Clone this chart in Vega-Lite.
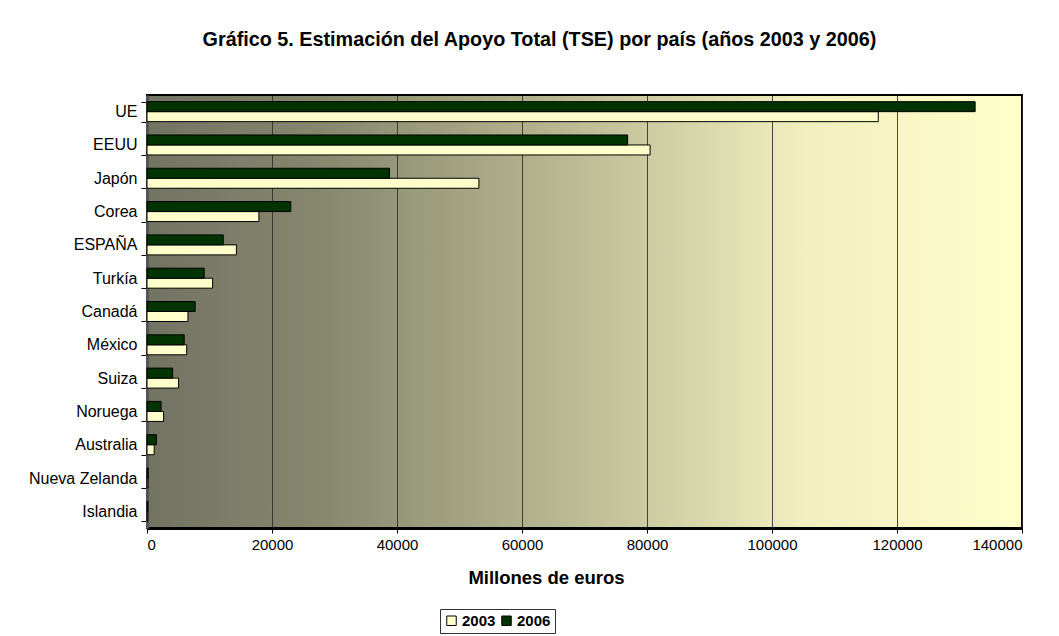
{
  "$schema": "https://vega.github.io/schema/vega-lite/v6.json",
  "width": 875,
  "height": 433,
  "padding": {"left": 28, "top": 30, "right": 5, "bottom": 0},
  "background": "white",
  "title": {
    "text": "Gráfico 5. Estimación del Apoyo Total (TSE) por país (años 2003 y 2006)",
    "font": "Liberation Sans",
    "fontSize": 19.8,
    "fontWeight": "bold",
    "color": "black",
    "offset": 37,
    "dx": 14,
    "anchor": "middle",
    "frame": "bounds"
  },
  "data": {
    "values": [
      {"pais": "UE", "anio": "2003", "valor": 117000},
      {"pais": "UE", "anio": "2006", "valor": 132500},
      {"pais": "EEUU", "anio": "2003", "valor": 80500},
      {"pais": "EEUU", "anio": "2006", "valor": 76900},
      {"pais": "Japón", "anio": "2003", "valor": 53100},
      {"pais": "Japón", "anio": "2006", "valor": 38800},
      {"pais": "Corea", "anio": "2003", "valor": 17900},
      {"pais": "Corea", "anio": "2006", "valor": 23000},
      {"pais": "ESPAÑA", "anio": "2003", "valor": 14300},
      {"pais": "ESPAÑA", "anio": "2006", "valor": 12200},
      {"pais": "Turkía", "anio": "2003", "valor": 10500},
      {"pais": "Turkía", "anio": "2006", "valor": 9150},
      {"pais": "Canadá", "anio": "2003", "valor": 6550},
      {"pais": "Canadá", "anio": "2006", "valor": 7700},
      {"pais": "México", "anio": "2003", "valor": 6350},
      {"pais": "México", "anio": "2006", "valor": 5950},
      {"pais": "Suiza", "anio": "2003", "valor": 5050},
      {"pais": "Suiza", "anio": "2006", "valor": 4100},
      {"pais": "Noruega", "anio": "2003", "valor": 2650},
      {"pais": "Noruega", "anio": "2006", "valor": 2250},
      {"pais": "Australia", "anio": "2003", "valor": 1150},
      {"pais": "Australia", "anio": "2006", "valor": 1500},
      {"pais": "Nueva Zelanda", "anio": "2003", "valor": 150},
      {"pais": "Nueva Zelanda", "anio": "2006", "valor": 200},
      {"pais": "Islandia", "anio": "2003", "valor": 130},
      {"pais": "Islandia", "anio": "2006", "valor": 150}
    ]
  },
  "mark": {"type": "bar", "stroke": "black", "strokeWidth": 1},
  "encoding": {
    "y": {
      "field": "pais",
      "type": "nominal",
      "sort": ["UE", "EEUU", "Japón", "Corea", "ESPAÑA", "Turkía", "Canadá", "México", "Suiza", "Noruega", "Australia", "Nueva Zelanda", "Islandia"],
      "scale": {"paddingInner": 0.4, "paddingOuter": 0.2},
      "axis": {
        "title": null,
        "labelFont": "Liberation Sans",
        "labelFontSize": 16,
        "labelColor": "black",
        "labelPadding": 4,
        "tickBand": "extent",
        "tickColor": "black",
        "tickSize": 6,
        "domainColor": "#555555",
        "domainWidth": 3
      }
    },
    "yOffset": {"field": "anio", "sort": ["2006", "2003"]},
    "x": {
      "field": "valor",
      "type": "quantitative",
      "scale": {"domain": [0, 140000], "nice": false},
      "axis": {
        "title": "Millones de euros",
        "titleFont": "Liberation Sans",
        "titleFontSize": 18.5,
        "titleFontWeight": "bold",
        "titleColor": "black",
        "titlePadding": 16,
        "titleX": 399,
        "values": [0, 20000, 40000, 60000, 80000, 100000, 120000, 140000],
        "format": "d",
        "labelFont": "Liberation Sans",
        "labelFontSize": 15,
        "labelColor": "black",
        "labelPadding": 4,
        "tickColor": "black",
        "tickSize": 5,
        "domainColor": "black",
        "domainWidth": 3,
        "grid": true,
        "gridColor": "#2a2a2a",
        "gridOpacity": 0.85,
        "gridWidth": 1
      }
    },
    "color": {
      "field": "anio",
      "type": "nominal",
      "scale": {"domain": ["2003", "2006"], "range": ["#FFFFCC", "#003300"]},
      "legend": {
        "title": null,
        "orient": "none",
        "legendX": 293,
        "legendY": 514,
        "direction": "horizontal",
        "symbolType": "square",
        "symbolStrokeColor": "black",
        "symbolStrokeWidth": 1,
        "symbolSize": 90,
        "labelFont": "Liberation Sans",
        "labelFontSize": 15,
        "labelFontWeight": "bold",
        "labelColor": "black",
        "labelOffset": 3,
        "columnPadding": 3,
        "padding": 4,
        "strokeColor": "#333333"
      }
    }
  },
  "config": {
    "view": {
      "fill": {
        "gradient": "linear",
        "x1": 0, "y1": 0, "x2": 1, "y2": 0,
        "stops": [
          {"offset": 0, "color": "#737363"},
          {"offset": 0.2, "color": "#87876E"},
          {"offset": 0.45, "color": "#B3B38F"},
          {"offset": 0.75, "color": "#F1EFBD"},
          {"offset": 1, "color": "#FFFFCC"}
        ]
      },
      "stroke": "black",
      "strokeWidth": 2
    }
  }
}
